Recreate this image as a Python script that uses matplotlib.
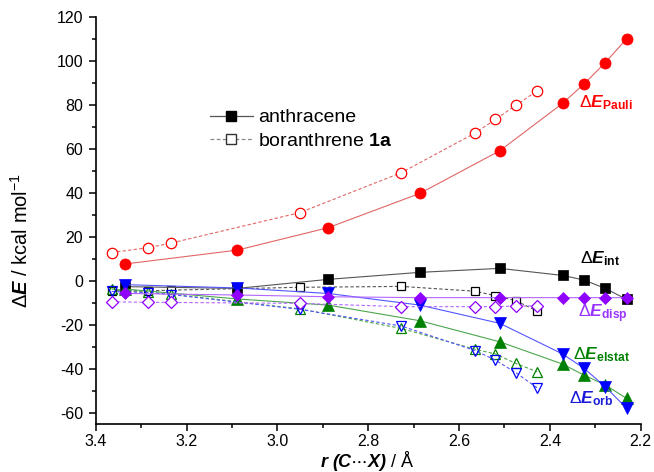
import numpy as np
import matplotlib
matplotlib.use('Agg')
import matplotlib.pyplot as plt
from matplotlib.lines import Line2D

plt.rcParams['font.family'] = ['Liberation Sans', 'DejaVu Sans']
plt.rcParams['mathtext.fontset'] = 'custom'
plt.rcParams['mathtext.rm'] = 'Liberation Sans'
plt.rcParams['mathtext.it'] = 'Liberation Sans:italic'
plt.rcParams['mathtext.bf'] = 'Liberation Sans:bold'
plt.rcParams['mathtext.bfit'] = 'Liberation Sans:italic:bold'
plt.rcParams['axes.unicode_minus'] = False

# C...X distances (A)
r_anth = [3.335, 3.088, 2.888, 2.686, 2.510, 2.372, 2.325, 2.278, 2.231]
r_bor = [3.365, 3.285, 3.234, 2.951, 2.727, 2.564, 2.520, 2.475, 2.428]

# energy terms, kcal/mol
pauli_anth = [7.9, 14.2, 24.4, 40.0, 59.4, 80.9, 89.7, 99.4, 110.3]
int_anth = [-2.4, -3.2, 0.9, 4.1, 5.9, 2.7, 0.6, -3.2, -8.2]
disp_anth = [-5.5, -6.2, -7.0, -7.4, -7.4, -7.4, -7.4, -7.4, -7.4]
elstat_anth = [-3.5, -8.0, -10.8, -17.9, -27.5, -37.6, -42.6, -47.1, -53.2]
orb_anth = [-1.5, -3.0, -5.5, -10.8, -19.1, -33.0, -39.5, -47.9, -57.7]

pauli_bor = [13.1, 15.3, 17.4, 31.2, 49.4, 67.5, 73.6, 80.0, 86.6]
int_bor = [-4.3, -4.3, -4.0, -2.7, -2.3, -4.5, -6.5, -8.8, -13.5]
disp_bor = [-9.3, -9.5, -9.6, -10.0, -11.5, -11.5, -11.5, -11.2, -11.2]
elstat_bor = [-3.5, -5.0, -5.8, -12.5, -21.4, -30.9, -33.0, -37.3, -41.1]
orb_bor = [-4.6, -5.1, -6.0, -12.7, -20.3, -31.5, -35.8, -41.5, -48.4]

fig = plt.figure(figsize=(6.54, 4.72), dpi=100)
ax = fig.add_axes([0.1463, 0.1023, 0.8334, 0.861])

dash = (0, (3, 2))
# (anthracene, boranthrene, colour, line tint, marker, size)
series = [
    (int_anth, int_bor, '#000000', '#555555', 's', 6.5),
    (elstat_anth, elstat_bor, '#008000', '#4ca64c', '^', 8),
    (orb_anth, orb_bor, '#0000ff', '#5555ff', 'v', 8),
    (disp_anth, disp_bor, '#8f00ff', '#b366ff', 'D', 6.5),
    (pauli_anth, pauli_bor, '#ff0000', '#e06666', 'o', 8),
]
for ya, yb, c, lc, m, ms in series:
    fill_open = 'none' if m in ('^', 'v') else 'white'
    ax.plot(r_bor, yb, ls=dash, lw=0.8, color=lc, marker=m, ms=ms - 0.5,
            mfc=fill_open, mec=c, mew=0.9)
    ax.plot(r_anth, ya, ls='-', lw=0.8, color=lc, marker=m, ms=ms,
            mfc=c, mec=c, mew=0.5)

ax.set_xlim(3.4, 2.2)
ax.set_ylim(-64.7, 120)
ax.set_xticks(np.arange(3.4, 2.19, -0.2))
ax.set_xticks(np.arange(3.3, 2.2, -0.2), minor=True)
ax.set_xticklabels(['3.4', '3.2', '3.0', '2.8', '2.6', '2.4', '2.2'])
ax.set_yticks(np.arange(-60, 121, 20))
ax.set_yticks(np.arange(-50, 120, 20), minor=True)
ax.spines['top'].set_visible(False)
ax.spines['right'].set_visible(False)
ax.spines['left'].set_linewidth(1.2)
ax.spines['bottom'].set_linewidth(1.2)
ax.tick_params(which='major', direction='out', length=5, width=1.1,
               labelsize=11.5, pad=4)
ax.tick_params(axis='x', which='major', pad=2.5)
ax.tick_params(which='minor', direction='out', length=3, width=1.1)

ax.set_xlabel(r'$\mathbfit{r\ (C}$$\cdots$$\mathbfit{X)}$ / Å', fontsize=13)
ax.xaxis.set_label_coords(0.498, -0.062)
ax.set_ylabel(r'Δ$\mathbfit{E}$ / kcal mol$^{-1}$', fontsize=14.5)
ax.yaxis.set_label_coords(-0.118, 0.45)

lab = dict(fontsize=12.5, ha='left', va='baseline')
ax.text(2.336, 79.1, r'Δ$\mathbfit{E}_{\mathbf{Pauli}}$', color='#ff0000', **lab)
ax.text(2.334, 8.2, r'Δ$\mathbfit{E}_{\mathbf{int}}$', color='#000000', **lab)
ax.text(2.3375, -16.4, r'Δ$\mathbfit{E}_{\mathbf{disp}}$', color='#9933ff', **lab)
ax.text(2.350, -35.3, r'Δ$\mathbfit{E}_{\mathbf{elstat}}$', color='#008000', **lab)
ax.text(2.359, -55.5, r'Δ$\mathbfit{E}_{\mathbf{orb}}$', color='#1a1ad9', **lab)

handles = [
    Line2D([], [], color='#555555', lw=0.9, marker='s', ms=6.5,
           mfc='black', mec='black'),
    Line2D([], [], color='#888888', lw=0.9, ls=dash, marker='s', ms=6.5,
           mfc='white', mec='#333333'),
]
fig.legend(handles, ['anthracene', r'boranthrene $\mathbf{1a}$'],
           loc='upper left', bbox_to_anchor=(200 / 654, 1 - 99 / 472),
           frameon=False, fontsize=14, handlelength=2.2, handletextpad=0.3,
           borderpad=0, labelspacing=0.3)

fig.savefig('out.png', dpi=100)
